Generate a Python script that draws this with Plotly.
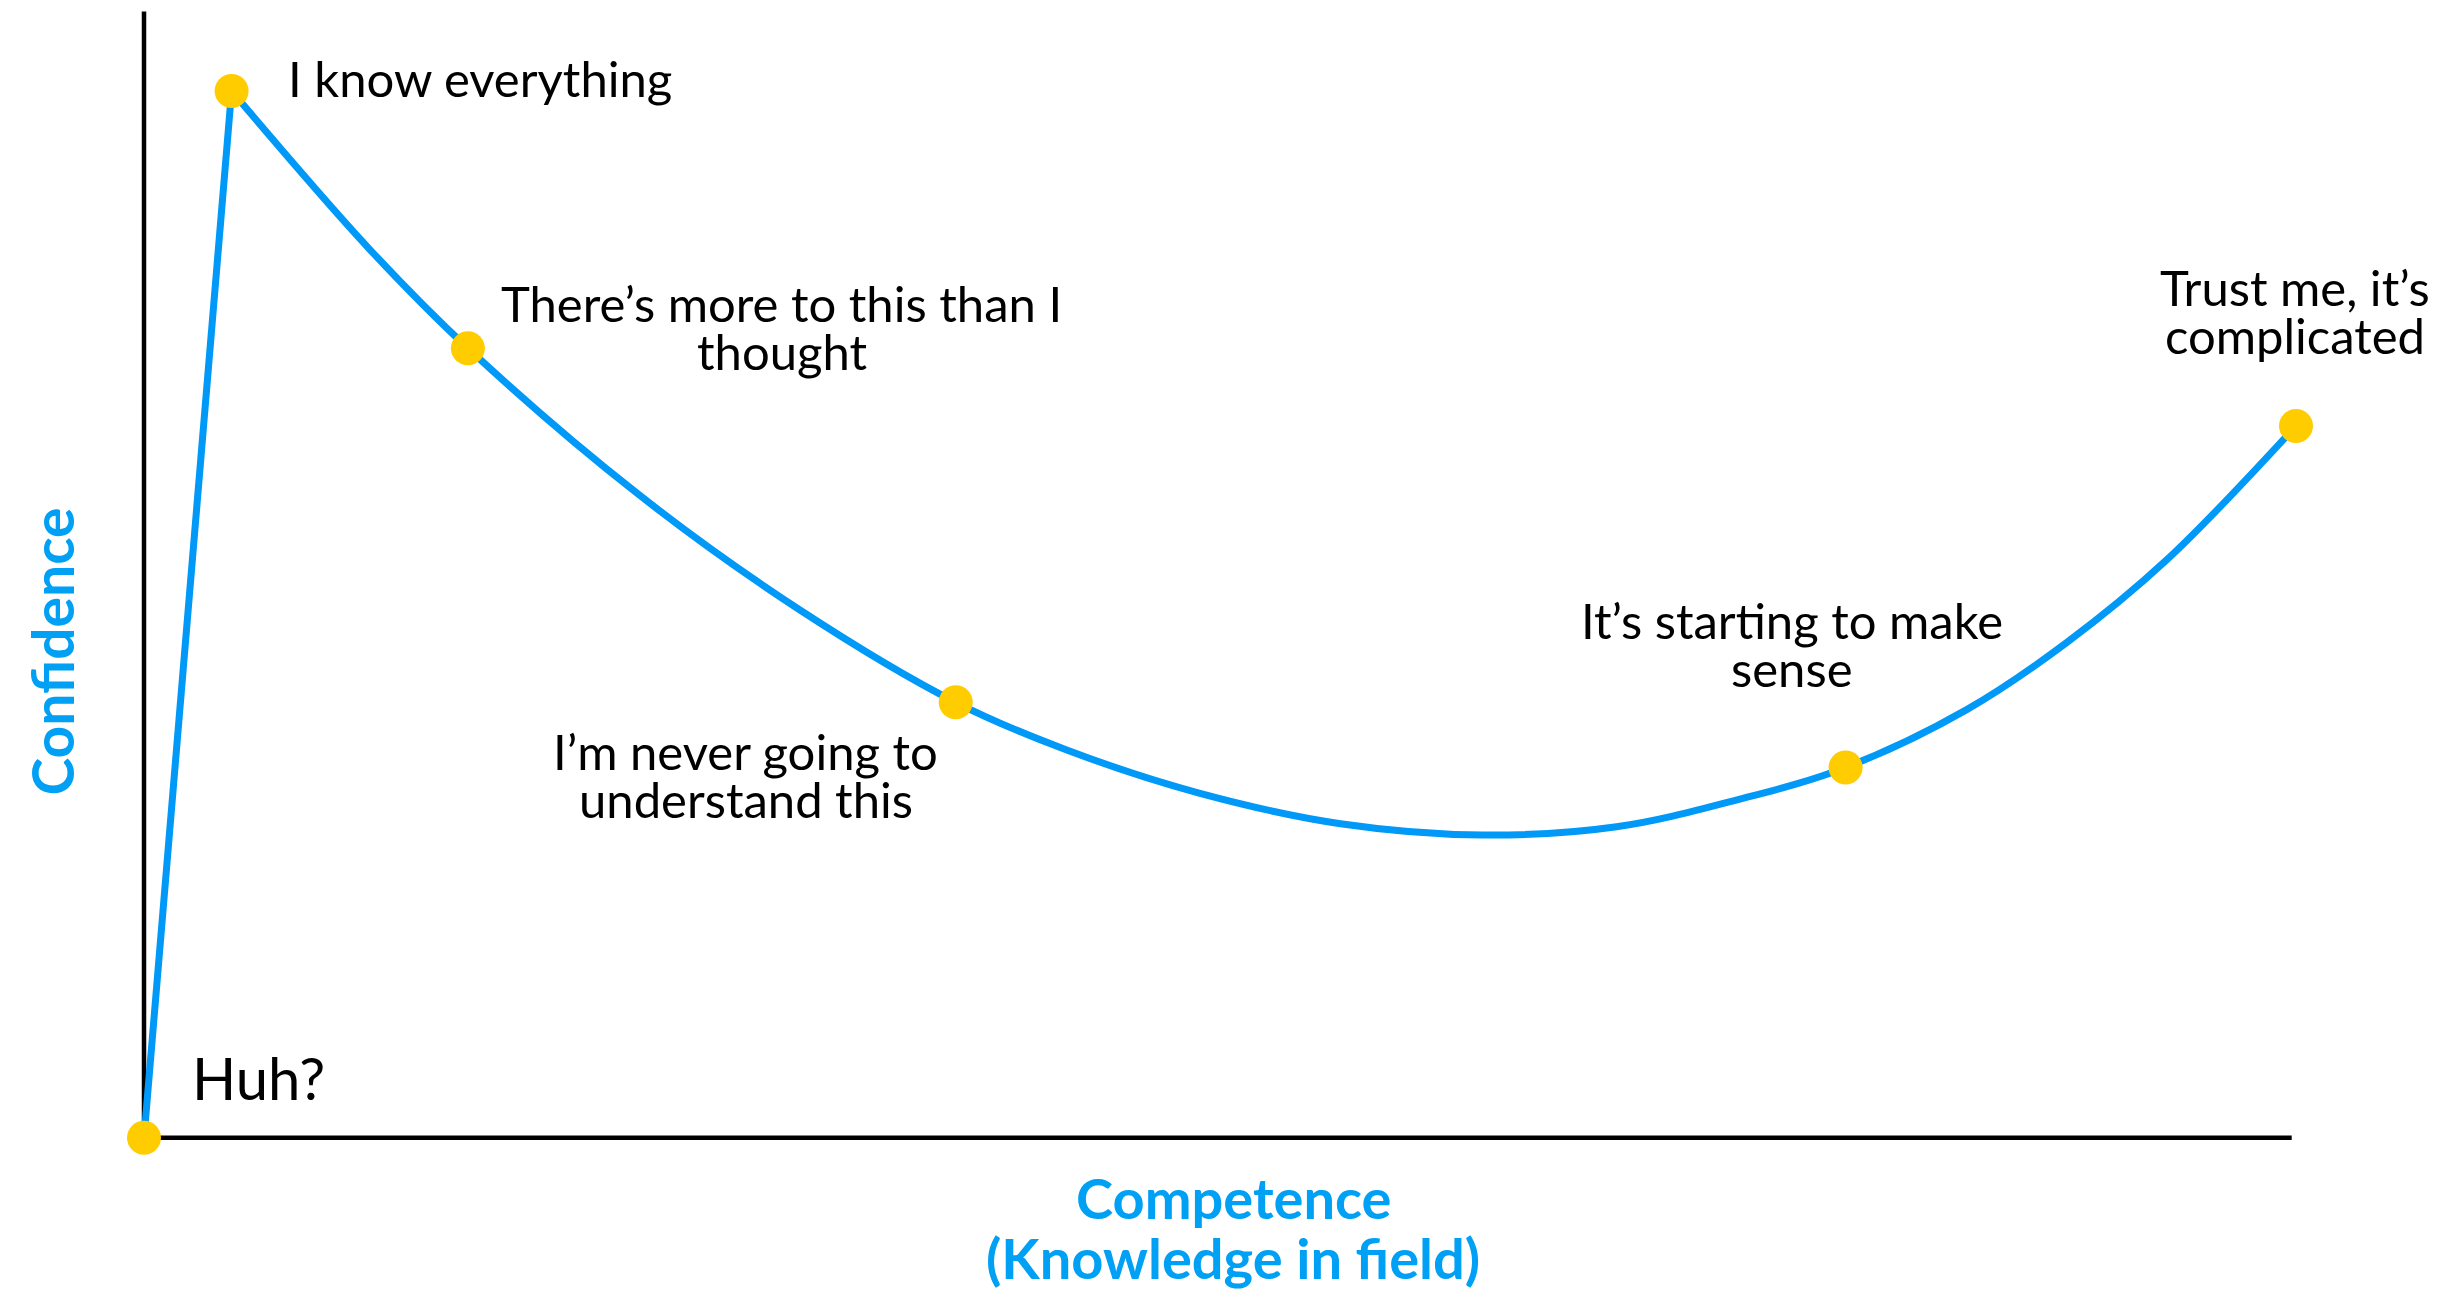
import plotly.graph_objects as go

# ---- data (competence 0-100, confidence 0-100) ----
ramp_x = [0.0, 4.07]
ramp_y = [0.0, 100.0]

curve_x = [4.07, 10.43, 15.05, 22.99, 30.48, 37.72, 42.88, 49.07, 55.6,
           62.22, 68.43, 74.07, 79.07, 84.70, 89.34, 93.99, 100.0]
curve_y = [100.0, 85.0, 75.43, 61.44, 50.42, 41.60, 37.04, 32.90, 30.0,
           28.92, 29.71, 32.3, 35.37, 40.9, 47.3, 55.2, 68.0]

stage_x = [0.0, 4.07, 15.05, 37.72, 79.07, 100.0]
stage_y = [0.0, 100.0, 75.43, 41.60, 35.37, 68.0]
stage_labels = [
    ["Huh?"],
    ["I know everything"],
    ["There\u2019s more to this than I", "thought"],
    ["I\u2019m never going to", "understand this"],
    ["It\u2019s starting to make", "sense"],
    ["Trust me, it\u2019s", "complicated"],
]
x_title = ["Competence", "(Knowledge in field)"]
y_title = "Confidence"

# ---- styling / placement ----
W, H = 2447, 1292
PAGE = 8            # default body margin of the html page
BLUE = "#0099F7"
TITLE_BLUE = "#00A0F4"
YELLOW = "#FFCC00"
FONT = "Lato"
OX, OY = 144 - PAGE, 1137.7 - PAGE   # pixel of the origin inside the figure
SX, SY = 21.52, 10.467               # pixels per unit

# label placement relative to each stage point (pixels): xshift, first-line yshift, anchor, size
label_pos = [
    (46, 60, "left", 58),
    (54, 13, "left", 49),
    (314, 45, "center", 49),
    (-210, -49, "center", 49),
    (-54, 147, "center", 49),
    (-1, 139, "center", 49),
]
LINE_STEP = 48

x_range = [-OX / SX, (W - OX) / SX]
y_range = [(OY - H) / SY, OY / SY]

fig = go.Figure()

fig.add_trace(go.Scatter(x=ramp_x, y=ramp_y, mode="lines",
                         line=dict(color=BLUE, width=7), hoverinfo="skip"))
fig.add_trace(go.Scatter(x=curve_x, y=curve_y, mode="lines",
                         line=dict(color=BLUE, width=7, shape="spline", smoothing=1.0),
                         hoverinfo="skip"))
fig.add_trace(go.Scatter(x=stage_x, y=stage_y, mode="markers",
                         marker=dict(color=YELLOW, size=34, line=dict(width=0)),
                         cliponaxis=False))

# axes lines
fig.add_shape(type="line", x0=0, y0=0, x1=0, y1=107.6, xref="x", yref="y",
              line=dict(color="black", width=4.5), layer="below")
fig.add_shape(type="line", x0=0, y0=0, x1=99.8, y1=0, xref="x", yref="y",
              line=dict(color="black", width=4.5), layer="below")

annotations = []
for (px, py, lines, (xs, ys, anc, fs)) in zip(stage_x, stage_y, stage_labels, label_pos):
    for i, t in enumerate(lines):
        annotations.append(dict(
            x=px, y=py, xref="x", yref="y", text=t, showarrow=False,
            xanchor=anc, yanchor="middle", xshift=xs, yshift=ys - i * LINE_STEP,
            font=dict(family=FONT, size=fs, color="black")))

for i, t in enumerate(x_title):
    annotations.append(dict(
        x=(1233 - PAGE) / W, y=(H - (1197 - PAGE) - i * 60) / H, xref="paper", yref="paper",
        text="<b>%s</b>" % t, showarrow=False, xanchor="center", yanchor="middle",
        font=dict(family=FONT, size=56, color=TITLE_BLUE)))

annotations.append(dict(
    x=(51.5 - PAGE) / W, y=(H - (652 - PAGE)) / H, xref="paper", yref="paper",
    text="<b>%s</b>" % y_title, showarrow=False, textangle=-90,
    xanchor="center", yanchor="middle",
    font=dict(family=FONT, size=57, color=TITLE_BLUE)))

fig.update_layout(
    width=W, height=H,
    margin=dict(l=0, r=0, t=0, b=0),
    paper_bgcolor="white", plot_bgcolor="white",
    showlegend=False,
    annotations=annotations,
    xaxis=dict(range=x_range, visible=False, fixedrange=True),
    yaxis=dict(range=y_range, visible=False, fixedrange=True),
)

fig.write_html("out.html", config={"displayModeBar": False})
